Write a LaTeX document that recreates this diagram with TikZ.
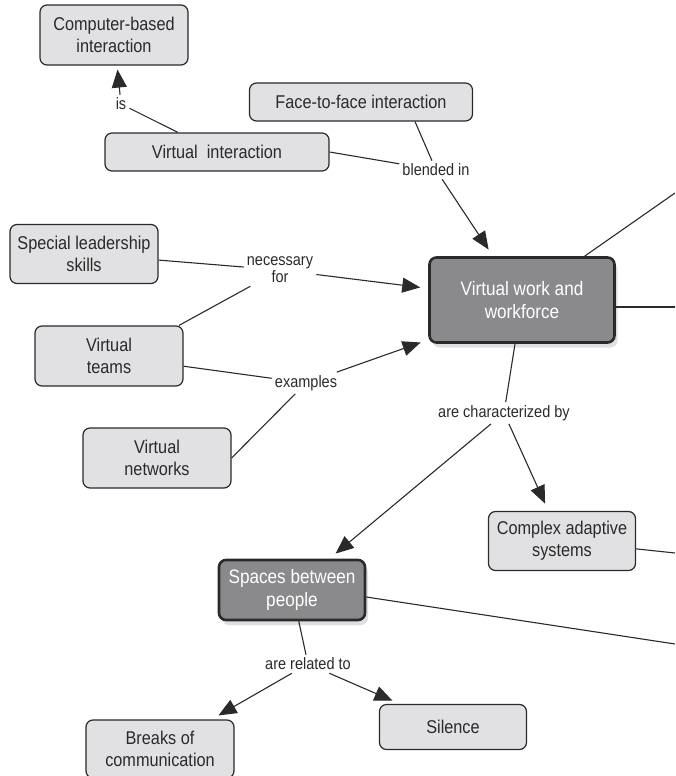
\documentclass[tikz,border=0pt]{standalone}
\usepackage{fontspec}
\setmainfont[FakeStretch=0.88]{Liberation Sans}
\usetikzlibrary{arrows.meta,shadows}

\definecolor{boxfill}{HTML}{E1E1E3}
\definecolor{topicfill}{HTML}{8A8A8C}
\definecolor{ink}{HTML}{2A2A2A}

\begin{document}
\begin{tikzpicture} [x=1pt, y=-1pt]
    \tikzstyle{every node} = [align=center, font=\fontsize{18.5}{22}\selectfont]
    \tikzstyle{concept} = [draw=ink, line width=1.2pt, rounded corners=7pt, fill=boxfill, text=ink, inner sep=0pt]
    \tikzstyle{topic} = [concept, fill=topicfill, line width=2.6pt, text=white, font=\fontsize{19.5}{23}\selectfont, drop shadow={opacity=0.25, shadow xshift=3pt, shadow yshift=-5pt}]
    \tikzstyle{link} = [font=\fontsize{16.5}{17}\selectfont, text=ink, inner sep=3pt]
    \tikzstyle{arrow} = [-{Triangle[length=18pt,width=15pt]}, shorten >=8pt]
    \useasboundingbox (0,0) rectangle (675,776);
    \draw [use as bounding box, white] (0,0) rectangle (675,776);

    % concepts
    \node [concept, minimum width=148, minimum height=60] (cbi) at (114,35) {Computer-based \\ interaction};
    \node [concept, minimum width=223, minimum height=38] (f2f) at (361,102) {Face-to-face interaction};
    \node [concept, minimum width=224, minimum height=38] (vi) at (217,152) {Virtual\ \ interaction};
    \node [concept, minimum width=148, minimum height=59] (sls) at (84,254) {Special leadership \\ skills};
    \node [concept, minimum width=148, minimum height=60] (vt) at (109,356) {Virtual \\ teams};
    \node [concept, minimum width=148, minimum height=60] (vn) at (157,458) {Virtual \\ networks};
    \node [topic, minimum width=185, minimum height=85] (vw) at (522,300) {Virtual work and \\ workforce};
    \node [concept, minimum width=147, minimum height=59] (cas) at (562,541) {Complex adaptive \\ systems};
    \node [topic, minimum width=146, minimum height=60] (sbp) at (292,590) {Spaces between \\ people};
    \node [concept, minimum width=148, minimum height=58] (boc) at (160,749) {Breaks of \\ communication};
    \node [concept, minimum width=147, minimum height=45] (sil) at (453,727) {Silence};

    % linking phrases
    \node [link] (is) at (121,104) {is};
    \node [link] (bl) at (436,170) {blended in};
    \node [link] (nf) at (280,270) {necessary \\ for};
    \node [link] (ex) at (306,383) {examples};
    \node [link] (ch) at (504,413) {are characterized by};
    \node [link] (rel) at (308,664) {are related to};

    % links leaving the page
    \coordinate (out1) at (675,193);
    \coordinate (out2) at (675,307);
    \coordinate (out3) at (675,553);
    \coordinate (out4) at (675,644);

    \begin{scope}[draw=ink, line width=1.1pt]
        \draw (vi) -- (is);
        \draw [arrow, shorten >=4pt] (is) -- (cbi);
        \draw (vi.east) -- (bl);
        \draw ([xshift=54pt]f2f.south) -- (bl);
        \draw [arrow] (bl) -- (vw);
        \draw (sls) -- (nf);
        \draw ([xshift=70pt]vt.north) -- (nf);
        \draw [arrow] (nf) -- (vw);
        \draw (vt) -- (ex);
        \draw (vn.east) -- (ex);
        \draw [arrow] (ex) -- ([yshift=4pt]vw.south west);
        \draw (vw) -- (ch);
        \draw [arrow] (ch) -- (sbp);
        \draw [arrow] (ch) -- (cas);
        \draw (sbp) -- (rel);
        \draw [arrow] (rel) -- (boc);
        \draw [arrow] (rel) -- (sil);
        \draw (vw) -- (out1);
        \draw ([yshift=-7pt]vw.east) -- (out2);
        \draw (cas) -- (out3);
        \draw ([yshift=-7pt]sbp.east) -- (out4);
    \end{scope}
\end{tikzpicture}
\end{document}
